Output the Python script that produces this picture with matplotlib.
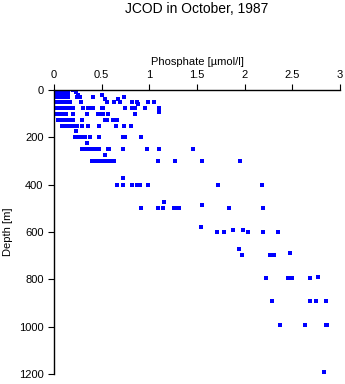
import matplotlib
matplotlib.use("Agg")
import matplotlib.pyplot as plt
import numpy as np

plt.rcParams['font.family'] = ['Liberation Sans', 'DejaVu Sans']

# phosphate [umol/l] read per sampling depth [m]
levels = [
    (0, [0.01, 0.03, 0.05, 0.07, 0.09, 0.11, 0.13, 0.15, 0.20]),
    (10, [0.01, 0.03, 0.05, 0.07, 0.09, 0.11, 0.13, 0.15, 0.23]),
    (20, [0.01, 0.03, 0.05, 0.07, 0.09, 0.11, 0.13, 0.15, 0.25, 0.50]),
    (30, [0.01, 0.03, 0.05, 0.07, 0.09, 0.11, 0.13, 0.15, 0.24, 0.27, 0.41, 0.73]),
    (40, [0.54, 0.67]),
    (50, [0.01, 0.03, 0.05, 0.07, 0.09, 0.11, 0.13, 0.15, 0.17, 0.28, 0.56,
          0.63, 0.69, 0.82, 0.87, 0.99, 1.05]),
    (59, [0.88]),
    (75, [0.02, 0.04, 0.06, 0.08, 0.10, 0.12, 0.14, 0.16, 0.18, 0.20, 0.30,
          0.36, 0.38, 0.41, 0.50, 0.51, 0.75, 0.82, 0.85, 0.95, 1.10]),
    (93, [1.10]),
    (100, [0.02, 0.04, 0.06, 0.08, 0.10, 0.13, 0.20, 0.35, 0.46, 0.48, 0.51,
           0.57, 0.85]),
    (125, [0.04, 0.06, 0.08, 0.10, 0.12, 0.14, 0.17, 0.20, 0.29, 0.54, 0.56,
           0.62, 0.64, 0.66]),
    (150, [0.08, 0.10, 0.12, 0.14, 0.16, 0.18, 0.20, 0.22, 0.24, 0.29, 0.36,
           0.47, 0.65, 0.73, 0.81]),
    (175, [0.23]),
    (200, [0.22, 0.24, 0.26, 0.28, 0.30, 0.33, 0.38, 0.47, 0.72, 0.75, 0.91]),
    (225, [0.35]),
    (250, [0.29, 0.31, 0.33, 0.35, 0.37, 0.39, 0.41, 0.45, 0.47, 0.57, 0.58,
           0.72, 0.98, 1.10, 1.46]),
    (275, [0.54]),
    (300, [0.40, 0.43, 0.47, 0.51, 0.56, 0.60, 0.63, 1.09, 1.27, 1.55, 1.95]),
    (370, [0.72]),
    (400, [0.66, 0.72, 0.82, 0.87, 0.90, 0.99, 1.72, 2.18]),
    (475, [1.15]),
    (486, [1.55]),
    (500, [0.91, 1.09, 1.14, 1.26, 1.29, 1.31, 1.84, 2.19]),
    (580, [1.54]),
    (590, [1.88, 1.98]),
    (600, [1.71, 1.78, 2.03, 2.19, 2.35]),
    (672, [1.94]),
    (690, [2.48]),
    (697, [1.97, 2.27, 2.31]),
    (788, [2.77]),
    (795, [2.22, 2.45, 2.50, 2.69]),
    (890, [2.29, 2.69, 2.75, 2.85]),
    (992, [2.37, 2.63, 2.85, 2.86]),
    (1191, [2.83]),
]

x_ticks = [0, 0.5, 1, 1.5, 2, 2.5, 3]
x_tick_labels = ["0", "0.5", "1", "1.5", "2", "2.5", "3"]
y_ticks = [0, 200, 400, 600, 800, 1000, 1200]

depth = np.concatenate([[d] * len(v) for d, v in levels])
phosphate = np.concatenate([v for d, v in levels])

fig = plt.figure(figsize=(3.45, 3.84), dpi=100)
ax = fig.add_axes([0.1565, 0.026, 0.829, 0.7396])

ax.plot(phosphate, depth, 's', color='#0000ff', markersize=2.4,
        markeredgewidth=0, linestyle='none')

ax.set_xlim(0, 3)
ax.set_ylim(1200, 0)
ax.xaxis.tick_top()
ax.xaxis.set_label_position('top')
ax.set_xticks(x_ticks)
ax.set_xticklabels(x_tick_labels)
ax.set_yticks(y_ticks)
ax.tick_params(direction='out', length=4.5, width=0.8, labelsize=8, pad=3)
ax.set_xlabel('Phosphate [µmol/l]', fontsize=8, labelpad=3)
ax.set_ylabel('Depth [m]', fontsize=8, labelpad=4)

for s in ['right', 'bottom']:
    ax.spines[s].set_visible(False)
for s in ['top', 'left']:
    ax.spines[s].set_linewidth(1.0)

fig.text(0.571, 1 - 9 / 384, 'JCOD in October, 1987', ha='center',
         va='center', fontsize=10)

fig.savefig('out.png', dpi=100)
